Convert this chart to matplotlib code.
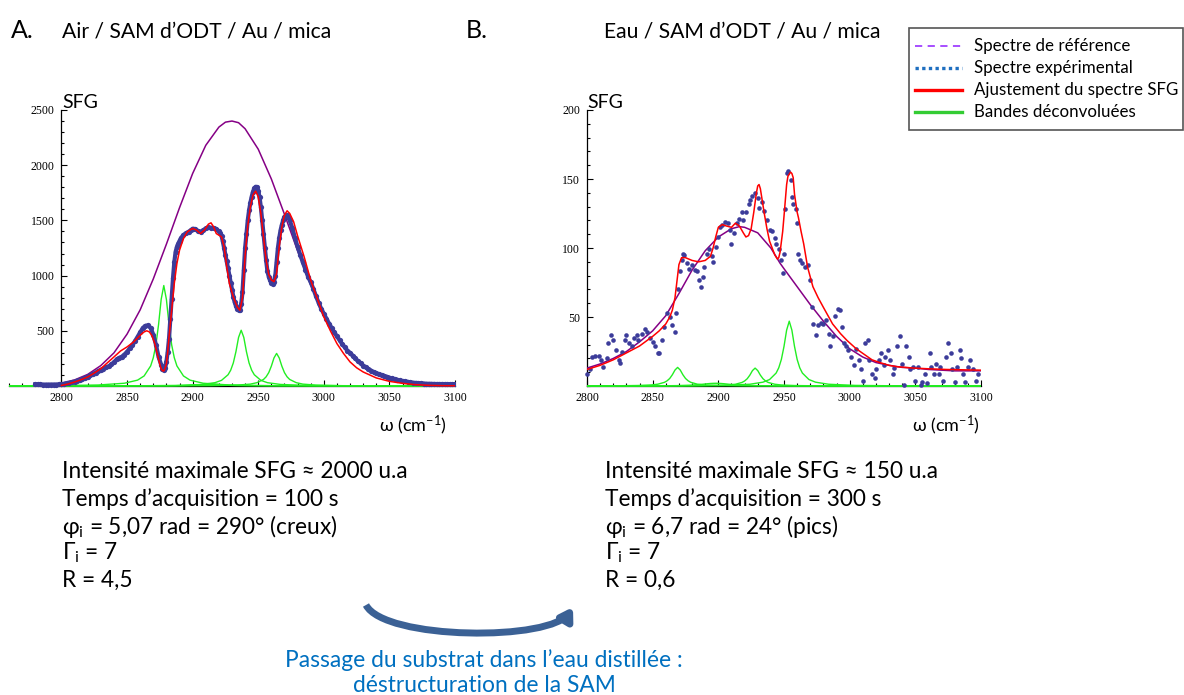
import numpy as np
import matplotlib
matplotlib.use("Agg")
import matplotlib.pyplot as plt
from matplotlib.ticker import MultipleLocator, FixedLocator
from matplotlib.patches import Rectangle, FancyArrowPatch
from matplotlib.lines import Line2D
from matplotlib.path import Path

plt.rcParams['font.family'] = ['Lato', 'Noto Sans', 'DejaVu Sans']
plt.rcParams['mathtext.default'] = 'regular'

# ---------------- data: A (air) ----------------
a_exp_x = [2780, 2782, 2784, 2786, 2788, 2790, 2792, 2794, 2796, 2798,
           2800, 2802, 2804, 2806, 2808, 2810, 2812, 2814, 2816, 2818,
           2820, 2822, 2824, 2826, 2828, 2830, 2832, 2834, 2836, 2838,
           2840, 2842, 2844, 2846, 2848, 2850, 2852, 2854, 2856, 2858,
           2860, 2862, 2864, 2866, 2868, 2870, 2872, 2874, 2876, 2877,
           2878, 2879, 2880, 2881, 2882, 2883, 2884, 2885, 2886, 2887,
           2888, 2889, 2890, 2891, 2893, 2895, 2897, 2899, 2900, 2902,
           2904, 2906, 2908, 2910, 2912, 2914, 2916, 2918, 2920, 2921,
           2922, 2923, 2924, 2925, 2926, 2927, 2928, 2929, 2930, 2931,
           2932, 2933, 2934, 2935, 2936, 2937, 2938, 2939, 2940, 2941,
           2942, 2943, 2944, 2945, 2946, 2947, 2948, 2949, 2950, 2951,
           2952, 2953, 2954, 2955, 2956, 2957, 2958, 2959, 2960, 2961,
           2962, 2963, 2964, 2965, 2966, 2967, 2968, 2969, 2970, 2971,
           2972, 2973, 2974, 2976, 2978, 2980, 2982, 2984, 2986, 2988,
           2990, 2992, 2994, 2996, 2998, 3000, 3002, 3004, 3006, 3008,
           3010, 3012, 3014, 3016, 3018, 3020, 3022, 3024, 3026, 3028,
           3030, 3032, 3034, 3036, 3038, 3040, 3042, 3044, 3046, 3048,
           3050, 3052, 3054, 3056, 3058, 3060, 3062, 3064, 3066, 3068,
           3070, 3072, 3074, 3076, 3078, 3080, 3082, 3084, 3086, 3088,
           3090, 3092, 3094, 3096, 3098, 3100]
a_exp_y = [15, 14, 14, 13, 13, 12, 12, 12, 13, 14,
           16, 20, 24, 29, 34, 40, 48, 56, 65, 75,
           85, 97, 110, 122, 135, 148, 158, 168, 178, 195,
           215, 240, 255, 265, 285, 310, 340, 370, 405, 445,
           485, 525, 546, 548, 525, 465, 375, 265, 190, 155,
           145, 160, 220, 310, 430, 610, 790, 975, 1120, 1215,
           1260, 1290, 1315, 1338, 1368, 1385, 1398, 1415, 1425, 1422,
           1405, 1398, 1410, 1428, 1437, 1434, 1428, 1420, 1400, 1385,
           1360, 1310, 1250, 1190, 1130, 1065, 1000, 935, 870, 810,
           760, 725, 700, 688, 690, 740, 850, 1050, 1250, 1380,
           1500, 1590, 1660, 1715, 1760, 1790, 1805, 1800, 1770, 1710,
           1620, 1500, 1380, 1250, 1140, 1040, 990, 960, 935, 928,
           945, 1000, 1120, 1250, 1340, 1410, 1460, 1500, 1530, 1545,
           1549, 1530, 1500, 1430, 1340, 1260, 1190, 1120, 1055, 990,
           940, 880, 815, 755, 700, 655, 610, 565, 525, 485,
           450, 415, 380, 350, 320, 300, 275, 250, 225, 205,
           185, 170, 155, 140, 125, 115, 107, 98, 90, 82,
           75, 68, 62, 55, 50, 45, 41, 37, 33, 30,
           28, 26, 24, 22, 21, 20, 19, 19, 18, 18,
           19, 18, 18, 18, 17, 17]

a_fit_x = [2800, 2805, 2810, 2815, 2820, 2825, 2830, 2835, 2840, 2845,
           2850, 2855, 2858, 2861, 2863, 2865, 2867, 2869, 2871, 2873,
           2875, 2876, 2877, 2878, 2879, 2880, 2881, 2882, 2884, 2886,
           2888, 2890, 2893, 2896, 2900, 2903, 2906, 2909, 2912, 2914,
           2916, 2918, 2920, 2922, 2924, 2926, 2928, 2931, 2934, 2936,
           2938, 2940, 2942, 2944, 2946, 2948, 2950, 2952, 2954, 2956,
           2958, 2960, 2962, 2964, 2966, 2968, 2970, 2972, 2974, 2977,
           2980, 2985, 2990, 2995, 3000, 3005, 3010, 3015, 3020, 3025,
           3030, 3040, 3050, 3060, 3070, 3080, 3090, 3100]
a_fit_y = [5, 18, 36, 57, 82, 117, 157, 210, 263, 317,
           354, 399, 435, 470, 490, 500, 490, 455, 390, 293,
           195, 157, 138, 136, 160, 202, 310, 444, 686, 928,
           1109, 1230, 1336, 1397, 1427, 1412, 1381, 1412, 1466, 1478,
           1442, 1381, 1366, 1351, 1260, 1079, 928, 807, 716, 686,
           800, 1180, 1450, 1623, 1729, 1765, 1714, 1563, 1351, 1140,
           1010, 960, 945, 1019, 1260, 1442, 1548, 1587, 1563, 1487,
           1360, 1170, 958, 792, 626, 500, 384, 295, 218, 165,
           127, 73, 42, 24, 12, 6, 3, 2]

a_ref_x = [2800, 2810, 2820, 2830, 2840, 2850, 2860, 2870, 2880, 2890,
           2900, 2910, 2920, 2925, 2930, 2935, 2940, 2950, 2960, 2970,
           2980, 2990, 3000, 3010, 3020, 3030, 3040, 3050, 3060, 3070,
           3080, 3090, 3100]
a_ref_y = [25, 55, 105, 185, 300, 470, 690, 970, 1285, 1615,
           1925, 2180, 2345, 2390, 2400, 2385, 2330, 2145, 1875, 1555,
           1225, 918, 655, 445, 285, 175, 100, 56, 30, 15,
           8, 4, 2]

# deconvolved bands: offsets from each band centre (cm-1)
band_offsets = [-240, -120, -80, -50, -30, -20, -15, -10, -8, -6, -4, -2, 0,
                2, 4, 6, 8, 10, 15, 20, 30, 50, 80, 120, 240]
a_band_centres = [2878, 2913, 2937, 2964]
a_band_values = [
    [0.4, 1.6, 3.5, 9, 25, 53, 91, 182, 256, 373, 555, 784, 910,
     784, 555, 373, 256, 182, 91, 53, 25, 9, 3.5, 1.6, 0.4],
    [0, 0.1, 0.3, 0.8, 2, 4, 6, 9, 11, 12.5, 14, 15, 15,
     15, 14, 12.5, 11, 9, 6, 4, 2, 0.8, 0.3, 0.1, 0],
    [0.2, 0.9, 2, 5, 14, 30, 51, 102, 143, 209, 311, 440, 505,
     440, 311, 209, 143, 102, 51, 30, 14, 5, 2, 0.9, 0.2],
    [0.1, 0.5, 1.2, 3, 8, 17, 30, 59, 83, 121, 180, 254, 295,
     254, 180, 121, 83, 59, 30, 17, 8, 3, 1.2, 0.5, 0.1],
]

# ---------------- data: B (eau) ----------------
b_exp_x = [2800, 2802, 2804, 2806, 2809, 2811, 2812, 2815, 2816, 2818,
           2820, 2822, 2824, 2825, 2827, 2829, 2830, 2832, 2834, 2836,
           2838, 2839, 2842, 2844, 2846, 2848, 2850, 2852, 2854, 2855,
           2857, 2859, 2861, 2863, 2865, 2867, 2868, 2869, 2871, 2872,
           2873, 2874, 2876, 2878, 2880, 2882, 2884, 2885, 2887, 2888,
           2889, 2891, 2893, 2895, 2896, 2898, 2900, 2901, 2903, 2905,
           2907, 2909, 2910, 2912, 2914, 2916, 2918, 2919, 2921, 2923,
           2924, 2926, 2928, 2930, 2931, 2933, 2935, 2937, 2939, 2941,
           2943, 2944, 2946, 2948, 2949, 2950, 2951, 2952, 2953, 2955,
           2956, 2957, 2959, 2960, 2961, 2962, 2964, 2966, 2968, 2970,
           2971, 2972, 2974, 2976, 2978, 2980, 2982, 2984, 2985, 2987,
           2989, 2991, 2993, 2994, 2996, 2997, 2999, 3001, 3003, 3005,
           3007, 3009, 3010, 3012, 3014, 3015, 3017, 3019, 3020, 3022,
           3024, 3026, 3027, 3029, 3031, 3033, 3034, 3036, 3038, 3040,
           3041, 3043, 3045, 3046, 3048, 3050, 3052, 3054, 3055, 3057,
           3059, 3061, 3062, 3064, 3066, 3068, 3069, 3071, 3073, 3075,
           3077, 3078, 3080, 3082, 3084, 3085, 3086, 3088, 3090, 3092,
           3094, 3096, 3098]
b_exp_y = [9, 12, 21, 22, 22, 19, 14, 20, 31, 37,
           33, 26, 19, 17, 25, 33, 37, 31, 29, 35,
           37, 33, 38, 41, 39, 35, 32, 29, 24, 24,
           33, 43, 53, 50, 44, 39, 53, 70, 83, 91,
           96, 95, 89, 85, 88, 84, 83, 77, 72, 79,
           86, 96, 99, 94, 90, 101, 108, 115, 117, 119,
           118, 113, 103, 111, 118, 121, 126, 120, 126, 132,
           135, 138, 140, 136, 129, 133, 127, 120, 113, 112,
           107, 103, 99, 91, 82, 96, 128, 154, 156, 149,
           137, 132, 128, 118, 96, 91, 89, 86, 88, 77,
           57, 45, 37, 44, 46, 45, 48, 38, 29, 36,
           51, 56, 55, 43, 31, 29, 26, 21, 15, 27,
           19, 12, 4, 31, 33, 19, 9, 6, 12, 19,
           24, 15, 21, 26, 19, 9, 13, 29, 36, 16,
           1, 29, 21, 12, 14, 4, 14, 1, 3, 9,
           2, 24, 14, 9, 16, 9, 14, 4, 21, 31,
           24, 12, 3, 14, 26, 20, 9, 3, 14, 19,
           12, 4, 9]

b_fit_x = [2800, 2810, 2820, 2830, 2840, 2850, 2855, 2860, 2863, 2865,
           2867, 2868, 2869, 2870, 2872, 2875, 2880, 2885, 2890, 2894,
           2896, 2898, 2900, 2903, 2906, 2910, 2913, 2916, 2919, 2921,
           2923, 2925, 2927, 2929, 2930, 2931, 2932, 2933, 2935, 2937,
           2939, 2941, 2943, 2945, 2946, 2947, 2949, 2950, 2952, 2953,
           2955, 2956, 2957, 2958, 2960, 2961, 2963, 2965, 2968, 2972,
           2976, 2980, 2987, 2993, 2998, 3005, 3011, 3017, 3023, 3030,
           3036, 3049, 3060, 3074, 3100]
b_fit_y = [12, 15, 19, 24, 29, 36, 40, 45, 50, 55,
           64, 72, 80, 88, 93, 93, 91, 90, 91, 94,
           100, 108, 115, 117, 116, 115, 118, 116, 111, 108,
           109, 114, 126, 140, 145, 146, 143, 137, 125, 114,
           105, 100, 95, 92, 93, 97, 112, 123, 146, 152,
           155, 154, 151, 139, 126, 122, 112, 103, 86, 72,
           64, 57, 45, 38, 33, 27, 23, 19, 17, 15,
           14, 13, 12.5, 12, 11.5]

b_ref_x = [2800, 2810, 2820, 2830, 2840, 2850, 2860, 2870, 2880, 2890,
           2900, 2910, 2916, 2920, 2930, 2940, 2947, 2950, 2960, 2970,
           2980, 2990, 3000, 3010, 3020, 3030, 3040, 3050, 3060, 3070,
           3080, 3090, 3100]
b_ref_y = [13, 16, 20, 25, 32, 40, 51, 67, 84, 98,
           108, 114, 115.5, 115, 111, 100, 89, 85, 72, 59,
           47, 36, 27, 21, 17, 15, 13.5, 13, 12, 11.5,
           11, 11, 11]

b_band_centres = [2869, 2898, 2928, 2954]
b_band_values = [
    [0, 0.02, 0.05, 0.13, 0.4, 0.8, 1.35, 2.7, 3.8, 5.5, 8.2, 11.6, 13.5,
     11.6, 8.2, 5.5, 3.8, 2.7, 1.35, 0.8, 0.4, 0.13, 0.05, 0.02, 0],
    [0, 0, 0.05, 0.1, 0.3, 0.6, 0.9, 1.3, 1.5, 1.7, 1.85, 1.95, 2,
     1.95, 1.85, 1.7, 1.5, 1.3, 0.9, 0.6, 0.3, 0.1, 0.05, 0, 0],
    [0, 0.02, 0.05, 0.13, 0.36, 0.76, 1.3, 2.6, 3.65, 5.3, 7.9, 11.2, 13,
     11.2, 7.9, 5.3, 3.65, 2.6, 1.3, 0.76, 0.36, 0.13, 0.05, 0.02, 0],
    [0, 0.08, 0.18, 0.47, 1.3, 2.8, 4.7, 9.4, 13.2, 19.3, 28.7, 40.5, 47,
     40.5, 28.7, 19.3, 13.2, 9.4, 4.7, 2.8, 1.3, 0.47, 0.18, 0.08, 0],
]

# text
info_a = ["Intensité maximale SFG ≈ 2000 u.a", "Temps d’acquisition = 100 s",
          "φ$_{i}$ = 5,07 rad = 290° (creux)", "Γ$_{i}$ = 7", "R = 4,5"]
info_b = ["Intensité maximale SFG ≈ 150 u.a", "Temps d’acquisition = 300 s",
          "φ$_{i}$ = 6,7 rad = 24° (pics)", "Γ$_{i}$ = 7", "R = 0,6"]
legend_labels = ["Spectre de référence", "Spectre expérimental",
                 "Ajustement du spectre SFG", "Bandes déconvoluées"]

PURPLE = '#850085'
RED = '#ff0000'
GREEN = '#22ee22'
DOTS = '#3c3c9a'

W, H = 1184, 695
fig = plt.figure(figsize=(W / 100, H / 100), dpi=100)


def fx(px):
    return px / W


def fy(py):
    return 1 - py / H


def style_axes(ax, ytop, ymajor, yminor):
    for s in ['top', 'right']:
        ax.spines[s].set_visible(False)
    ax.spines['left'].set_position(('data', 2800))
    ax.spines['bottom'].set_position(('data', 0))
    ax.spines['left'].set_bounds(0, ytop)
    for s in ['left', 'bottom']:
        ax.spines[s].set_linewidth(0.9)
    ax.xaxis.set_major_locator(MultipleLocator(50))
    ax.xaxis.set_minor_locator(MultipleLocator(10))
    ax.yaxis.set_major_locator(FixedLocator(ymajor))
    ax.yaxis.set_minor_locator(MultipleLocator(yminor))
    ax.tick_params(which='both', direction='in', width=0.8,
                   labelsize=8.5, labelfontfamily='Liberation Serif')
    ax.tick_params(which='major', length=4)
    ax.tick_params(which='minor', length=2.3)
    ax.tick_params(axis='x', pad=4)
    ax.tick_params(axis='y', pad=5)
    ax.patch.set_alpha(0)


# ---------------- panel A ----------------
axA = fig.add_axes([fx(9), fy(388.2), (455 - 9) / W, (388.2 - 110) / H])
axA.set_xlim(2760, 3100)
axA.set_ylim(-20, 2500)
style_axes(axA, 2500, [500, 1000, 1500, 2000, 2500], 100)
axA.plot(a_ref_x, a_ref_y, color=PURPLE, lw=1.1, zorder=3)
for c, vals in zip(a_band_centres, a_band_values):
    axA.plot(np.array(band_offsets) + c, vals, color=GREEN, lw=1.0, zorder=3)
axA.plot(a_exp_x, a_exp_y, '-', color=DOTS, lw=3.0, zorder=4)
axA.plot(a_exp_x, a_exp_y, 'o', color=DOTS, ms=3.8, mec='none', zorder=4)
axA.plot(a_fit_x, a_fit_y, color=RED, lw=1.1, zorder=5)

# ---------------- panel B ----------------
axB = fig.add_axes([fx(587), fy(388.8), 394 / W, 278.8 / H])
axB.set_xlim(2800, 3100)
axB.set_ylim(-2, 200)
style_axes(axB, 200, [50, 100, 150, 200], 10)
axB.plot(b_ref_x, b_ref_y, color=PURPLE, lw=1.1, zorder=3)
for c, vals in zip(b_band_centres, b_band_values):
    axB.plot(np.array(band_offsets) + c, vals, color=GREEN, lw=1.0, zorder=3)
axB.plot(b_exp_x, b_exp_y, 'o', color=DOTS, ms=3.3, mec='none', zorder=4,
         clip_on=False)
axB.plot(b_fit_x, b_fit_y, color=RED, lw=1.1, zorder=5)

# axis titles
for x0, x1 in [(62, 447), (587, 980)]:
    fig.text(fx(x0), fy(108), "SFG", fontsize=14, va='baseline')
    fig.text(fx(x1), fy(425), "ω (cm$^{-1}$)", fontsize=13, ha='right',
             va='center')

# panel titles
fig.text(fx(11), fy(31), "A.", fontsize=18, va='center')
fig.text(fx(62), fy(31), "Air / SAM d’ODT / Au / mica", fontsize=15.2,
         va='center')
fig.text(fx(466), fy(31), "B.", fontsize=18, va='center')
fig.text(fx(604), fy(31), "Eau / SAM d’ODT / Au / mica", fontsize=15.2,
         va='center')

# info blocks
line_y = [471, 499, 526, 553, 580]
for x0, lines in [(62, info_a), (605, info_b)]:
    for yy, s in zip(line_y, lines):
        fig.text(fx(x0), fy(yy), s, fontsize=16.3, va='center')

# legend box
fig.patches.append(Rectangle((fx(909), fy(130)), fx(1183) - fx(909),
                             fy(28) - fy(130), transform=fig.transFigure,
                             facecolor='white', edgecolor='#555555', lw=1.2))
leg_styles = [dict(color='#a040ff', lw=1.3, ls=(0, (4, 3))),
              dict(color='#1f6fc0', lw=2.4, ls=(0, (1, 1))),
              dict(color=RED, lw=2.4, ls='-'),
              dict(color='#33cc33', lw=2.4, ls='-')]
for yy, lab, st in zip([46, 68, 90, 112], legend_labels, leg_styles):
    fig.lines.append(Line2D([fx(915), fx(962)], [fy(yy), fy(yy)],
                            transform=fig.transFigure, **st))
    fig.text(fx(974), fy(yy), lab, fontsize=12.2, va='center')

# curved arrow and caption
arrow_pts = [(366, 605), (384, 640), (552, 642), (573, 607)]
arrow_path = Path([(fx(px), fy(py)) for px, py in arrow_pts],
                  [Path.MOVETO, Path.CURVE4, Path.CURVE4, Path.CURVE4])
arrow = FancyArrowPatch(path=arrow_path, transform=fig.transFigure,
                        arrowstyle='-|>,head_length=0.35,head_width=0.22',
                        mutation_scale=20, lw=5, color='#3b6195',
                        capstyle='butt')
fig.patches.append(arrow)
fig.text(fx(484), fy(660), "Passage du substrat dans l’eau distillée :",
         fontsize=16.4, color='#0070c0', ha='center', va='center')
fig.text(fx(484), fy(686), "déstructuration de la SAM",
         fontsize=16.4, color='#0070c0', ha='center', va='center')

fig.savefig("out.png", dpi=100)
